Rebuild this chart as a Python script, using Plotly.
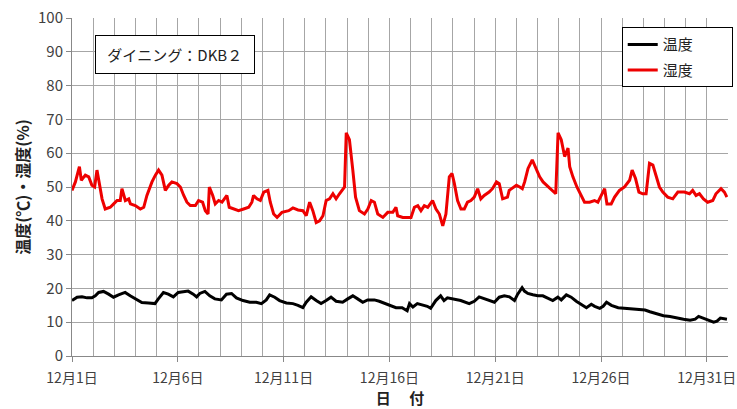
import plotly.graph_objects as go

# Day positions (1 = 12月1日 00:00) and values
hum_day = [1.00, 1.16, 1.35, 1.44, 1.63, 1.79, 1.94, 2.07, 2.18, 2.29, 2.42, 2.57, 2.81, 2.97, 3.13, 3.28, 3.36, 3.52,
           3.68, 3.76, 3.99, 4.23, 4.39, 4.54, 4.78, 4.94, 5.09, 5.25, 5.41, 5.57, 5.72, 5.96, 6.12, 6.28, 6.43, 6.59,
           6.83, 6.98, 7.17, 7.30, 7.43, 7.49, 7.65, 7.77, 7.93, 8.09, 8.24, 8.32, 8.43, 8.64, 8.87, 9.11, 9.35, 9.50,
           9.58, 9.74, 9.90, 10.06, 10.26, 10.37, 10.53, 10.69, 10.92, 11.24,
           11.44, 11.68, 11.91, 12.07, 12.23, 12.38, 12.54, 12.70, 12.86, 13.01, 13.17, 13.33, 13.48, 13.64, 13.88,
           13.96, 14.11, 14.27, 14.40, 14.58, 14.82, 14.98, 15.14, 15.29, 15.45, 15.69, 15.92, 16.16, 16.31, 16.39,
           16.63, 16.86, 17.02, 17.18, 17.34, 17.49, 17.65, 17.81, 18.04, 18.20, 18.36, 18.52, 18.67, 18.83, 18.96,
           19.07, 19.22, 19.38, 19.54, 19.69, 19.85, 20.01, 20.17, 20.32, 20.48, 20.71, 20.87, 21.06, 21.19, 21.35,
           21.58, 21.66,
           21.76, 22.00, 22.16, 22.28, 22.39, 22.55, 22.75, 22.94, 23.10, 23.26, 23.42, 23.57, 23.73, 23.86, 23.97,
           24.12, 24.28, 24.44, 24.52, 24.67, 24.86, 25.07, 25.22, 25.46, 25.69, 25.85, 26.01, 26.17, 26.28, 26.48,
           26.64, 26.87, 27.11, 27.35, 27.47, 27.63, 27.79, 27.97, 28.13, 28.29, 28.45, 28.60, 28.76, 28.92, 29.15,
           29.39, 29.63, 29.94, 30.18, 30.33, 30.49, 30.65, 30.84, 31.04, 31.28, 31.43, 31.67, 31.83, 31.95]
humidity = [49, 51.5, 56, 52, 53.5, 53, 50.5, 50, 55, 50.5, 46.5, 43.5, 44, 45, 46, 46, 49.5, 46,
            46.5, 45, 44.5, 43.5, 44, 47.5, 51.5, 53.5, 55, 53.5, 49, 50.5, 51.5, 51, 50, 47.5, 45.5, 44.5,
            44.5, 46, 45.5, 43, 42, 50, 47.5, 45, 46, 45.5, 47, 47.5, 44, 43.5, 43, 43.5, 44, 45.5,
            47.5, 46.5, 46, 48.5, 49, 45.5, 42, 41, 42.5, 43,
            43.8, 43.2, 43, 41.5, 45.5, 43, 39.5, 40, 41.5, 46, 46.5, 48, 46.5, 48, 50,
            66, 64, 55, 47, 43, 42, 43.5, 46, 45.5, 42, 41, 42.5, 42.5, 44, 41.5,
            41, 41, 41, 44, 44.5, 43, 44.5, 44, 46, 43.5, 42, 38.5, 42, 53, 54,
            51, 46, 43.5, 43.5, 45.5, 46, 47, 49.5, 46.5, 47.5, 48.5, 49.5, 51.5, 51, 46.5,
            47, 49,
            49.5, 50.5, 50, 49.5, 51.5, 55.5, 58, 55, 53, 51.5, 50.5, 49.5, 48.5, 48, 66,
            64, 59, 61.5, 56, 53, 50, 47.5, 45.5, 45.5, 46, 45.5, 47.5, 49.5, 45, 45,
            47, 49, 50, 52, 55, 52.5, 48.5, 48, 48, 57, 56.5, 53.5, 50, 48.5, 47,
            46.5, 48.5, 48.5, 48, 49, 47.5, 48, 46.5, 45.5, 46, 48, 49.5, 48.5, 47]

temp_day = [1.00, 1.24, 1.47, 1.71, 1.94, 2.10, 2.26, 2.49, 2.73, 2.96, 3.20, 3.51, 3.75, 3.98, 4.30, 4.61, 4.92,
            5.08, 5.32, 5.55, 5.79, 6.02, 6.26, 6.49, 6.73, 6.89, 7.04, 7.28, 7.51, 7.75, 8.06, 8.30, 8.54, 8.77,
            9.08, 9.40, 9.71, 9.95, 10.18, 10.34, 10.58, 10.81, 11.13, 11.44, 11.68, 11.91, 12.07, 12.30, 12.54,
            12.77, 13.01, 13.24, 13.48, 13.79, 14.03, 14.27, 14.50, 14.74, 14.97, 15.29, 15.52, 15.84, 16.07, 16.31,
            16.60, 16.84, 16.95, 17.11, 17.32, 17.55, 17.79, 17.95, 18.19, 18.42, 18.58, 18.74, 19.06, 19.37, 19.77,
            20.01, 20.24, 20.48, 20.72, 20.96, 21.19, 21.43, 21.67, 21.91, 22.06, 22.27, 22.38, 22.54, 22.78, 23.01,
            23.25, 23.49, 23.72, 23.96, 24.12, 24.36, 24.59, 24.83, 25.07, 25.31, 25.54, 25.70, 25.94, 26.10, 26.26,
            26.49, 26.81, 27.21, 27.68, 28.08, 28.31, 28.63, 28.95, 29.26, 29.58, 29.90, 30.21, 30.45, 30.61, 30.85,
            31.08, 31.32, 31.48, 31.64, 31.95]
temperature = [16.4, 17.4, 17.5, 17.2, 17.2, 17.8, 18.8, 19.1, 18.3, 17.4, 18.1, 18.8, 17.8, 16.9, 15.8, 15.7, 15.5,
               16.9, 18.8, 18.3, 17.5, 18.8, 19.1, 19.2, 18.3, 17.5, 18.5, 19.1, 17.8, 16.9, 16.6, 18.3, 18.5, 17.2,
               16.4, 15.9, 15.9, 15.5, 16.6, 18.1, 17.4, 16.4, 15.7, 15.5, 15.0, 14.3, 15.9, 17.5, 16.4,
               15.5, 16.4, 17.4, 16.2, 15.9, 16.9, 17.8, 16.9, 15.9, 16.6, 16.6, 16.2, 15.5, 15.0, 14.3,
               14.3, 13.4, 15.5, 14.5, 15.5, 15.0, 14.7, 14.1, 16.4, 17.8, 16.4, 17.2, 16.9, 16.4, 15.5,
               16.2, 17.5, 16.9, 16.4, 15.9, 17.4, 17.8, 17.5, 16.4, 18.3, 20.2, 19.2, 18.5, 18.1, 17.8,
               17.8, 17.2, 16.4, 17.4, 16.6, 18.1, 17.4, 16.2, 15.3, 14.3, 15.3, 14.7, 14.1, 14.7, 15.9,
               15.0, 14.3, 14.1, 13.8, 13.6, 13.1, 12.5, 11.9, 11.7, 11.2, 10.9, 10.6, 10.9, 11.7, 11.2,
               10.6, 10.0, 10.3, 11.2, 10.9]

tick_days = [1, 6, 11, 16, 21, 26, 31]
tick_labels = ["12月1日", "12月6日", "12月11日", "12月16日", "12月21日", "12月26日", "12月31日"]

FONT = "Noto Sans CJK JP"
PAD = "&nbsp;" * 10

fig = go.Figure()
fig.add_trace(go.Scatter(x=temp_day, y=temperature, mode="lines", name="温度" + PAD,
                         legendgroup="t", line=dict(color="#000000", width=3)))
fig.add_trace(go.Scatter(x=hum_day, y=humidity, mode="lines", name="湿度" + PAD,
                         legendgroup="h", line=dict(color="#ee0000", width=3)))

fig.update_layout(
    width=737, height=409,
    margin=dict(l=72, r=9, t=18, b=53, autoexpand=False),
    paper_bgcolor="white", plot_bgcolor="white",
    font=dict(family=FONT, color="#404040", size=12),
    showlegend=True,
    legend=dict(x=0.838, y=0.973, xanchor="left", yanchor="top",
                bgcolor="white", bordercolor="#000000", borderwidth=1,
                font=dict(size=15, color="#222222", family=FONT),
                itemwidth=30, tracegroupgap=3),
    annotations=[dict(text="&nbsp;ダイニング：DKB２&nbsp;", xref="paper", yref="paper",
                      x=0.035, y=0.95, xanchor="left", yanchor="top", showarrow=False,
                      bordercolor="#000000", borderwidth=1, borderpad=8, bgcolor="white",
                      font=dict(size=15, color="#222222", family=FONT))],
)
fig.update_xaxes(
    range=[1, 32], tickmode="array", tickvals=tick_days, ticktext=tick_labels,
    automargin=False,
    showgrid=True, gridcolor="#a6a6a6", gridwidth=1,
    minor=dict(dtick=1, tick0=1, showgrid=True, gridcolor="#a6a6a6", gridwidth=1),
    ticks="outside", ticklen=5, tickcolor="#888888", ticklabelstandoff=4,
    showline=True, linecolor="#888888", linewidth=1, zeroline=False,
    tickfont=dict(size=14, color="#404040"),
    title=dict(text="<b>日 　付</b>", font=dict(size=15, color="#222222"), standoff=0),
)
fig.update_yaxes(
    range=[0, 100], dtick=10, tick0=0, ticklabeloverflow="allow", automargin=False,
    showgrid=True, gridcolor="#a6a6a6", gridwidth=1,
    ticks="outside", ticklen=5, tickcolor="#888888",
    showline=True, linecolor="#888888", linewidth=1, zeroline=False,
    tickfont=dict(size=15, color="#404040"),
    title=dict(text="<b>温度(℃)・湿度(%)</b>", font=dict(size=16, color="#222222"), standoff=4),
)

fig.write_html("out.html", config={"displayModeBar": False},
               post_script="document.body.style.margin='0';")
